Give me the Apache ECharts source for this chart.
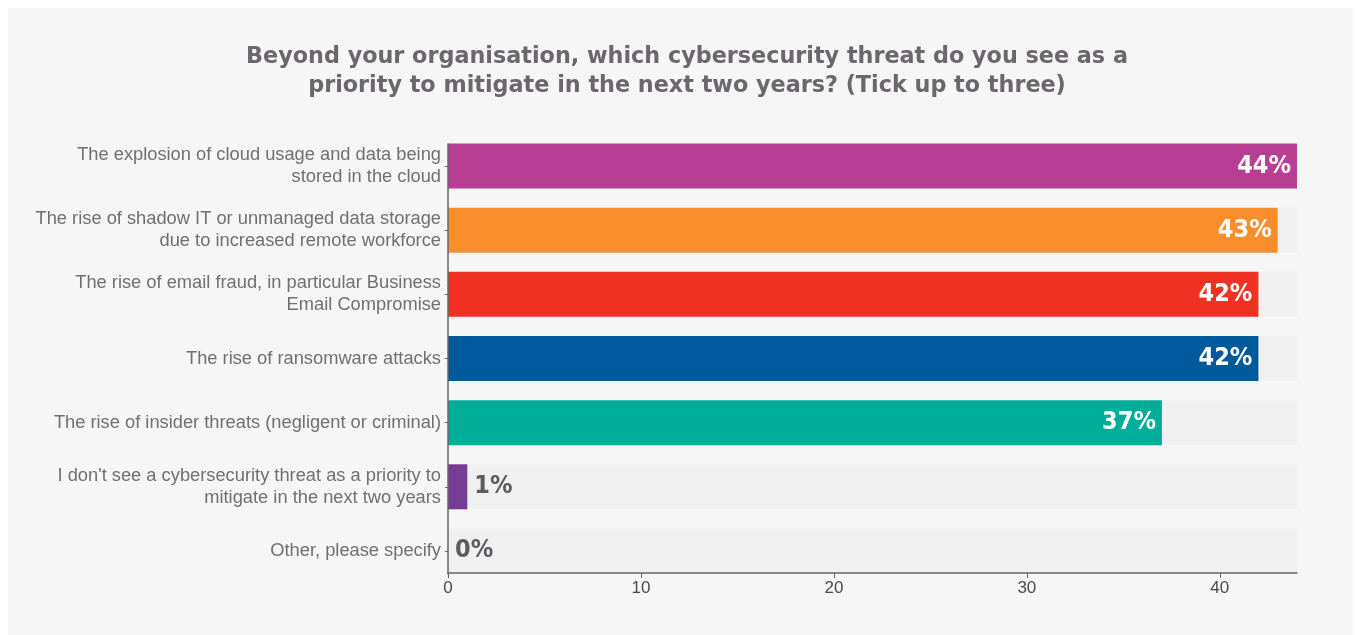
<!DOCTYPE html>
<html>
<head>
<meta charset="utf-8">
<script src="https://cdn.jsdelivr.net/npm/echarts@6/dist/echarts.min.js"></script>
<style>
  html, body { margin: 0; padding: 0; background: #fff; }
  #chart { width: 1356px; height: 635px; }
</style>
</head>
<body>
<div id="chart"></div>
<script>
  const categories = [
    'The explosion of cloud usage and data being\nstored in the cloud',
    'The rise of shadow IT or unmanaged data storage\ndue to increased remote workforce',
    'The rise of email fraud, in particular Business\nEmail Compromise',
    'The rise of ransomware attacks',
    'The rise of insider threats (negligent or criminal)',
    "I don't see a cybersecurity threat as a priority to\nmitigate in the next two years",
    'Other, please specify'
  ];
  const values = [44, 43, 42, 42, 37, 1, 0];
  const xTicks = [0, 10, 20, 30, 40];

  const barColors = ['#b83e93', '#f98f2c', '#ef3124', '#005a9c', '#00ad99', '#773d96', '#999999'];
  const BAR_W = 45;

  const chartObj = echarts.init(document.getElementById('chart'));

  const seriesData = values.map((v, i) => ({
    value: v,
    itemStyle: { color: barColors[i] },
    label: v >= 10
      ? { position: 'insideRight', color: '#fff', distance: 6 }
      : { position: 'right', color: '#5b5b60', distance: 7 }
  }));

  chartObj.setOption({
    animation: false,
    title: {
      text: 'Beyond your organisation, which cybersecurity threat do you see as a\npriority to mitigate in the next two years? (Tick up to three)',
      left: 682, top: 38, textAlign: 'center',
      textStyle: {
        fontFamily: 'DejaVu Sans, sans-serif',
        fontWeight: 'bold', fontSize: 22.3, color: '#6b676d', lineHeight: 29
      }
    },
    grid: { left: 448, right: 59, top: 134, height: 449, containLabel: false },
    xAxis: {
      type: 'value', min: 0, max: 44, interval: 10,
      offset: -10, z: 5,
      splitLine: { show: false },
      axisLine: { show: true, lineStyle: { color: '#666', width: 1.5 } },
      axisTick: { show: true, length: 5, customValues: xTicks, lineStyle: { color: '#666', width: 1 } },
      axisLabel: {
        color: '#4a4a4a', fontSize: 17, margin: 7,
        fontFamily: 'Liberation Sans, Arial, sans-serif',
        customValues: xTicks
      }
    },
    yAxis: {
      type: 'category', data: categories, inverse: true,
      axisLine: { show: false },
      axisTick: { show: true, length: 3, alignWithLabel: true, lineStyle: { color: '#666' } },
      axisLabel: {
        color: '#707070', fontSize: 18.3, lineHeight: 22, margin: 7, align: 'right',
        fontFamily: 'Liberation Sans, Arial, sans-serif'
      }
    },
    series: [{
      type: 'bar',
      data: seriesData,
      barWidth: BAR_W,
      showBackground: true,
      backgroundStyle: { color: '#f0f0f0' },
      label: {
        show: true,
        formatter: '{c}%',
        fontFamily: 'DejaVu Sans Condensed, DejaVu Sans, sans-serif',
        fontWeight: 'bold', fontSize: 25
      }
    }]
  });

  // panel background + y axis line that spans only the bars
  const firstPt = chartObj.convertToPixel({ gridIndex: 0 }, [0, categories[0]]);
  const lastPt = chartObj.convertToPixel({ gridIndex: 0 }, [0, categories[categories.length - 1]]);
  chartObj.setOption({
    graphic: [{
      type: 'rect', z: -10, silent: true,
      shape: { x: 8, y: 8, width: 1345, height: 627 },
      style: { fill: '#f6f6f6' }
    }, {
      type: 'line', z: 10, silent: true,
      shape: { x1: firstPt[0], y1: firstPt[1] - BAR_W / 2, x2: lastPt[0], y2: lastPt[1] + BAR_W / 2 + 1 },
      style: { stroke: '#666', lineWidth: 1.5 }
    }]
  });
</script>
</body>
</html>
